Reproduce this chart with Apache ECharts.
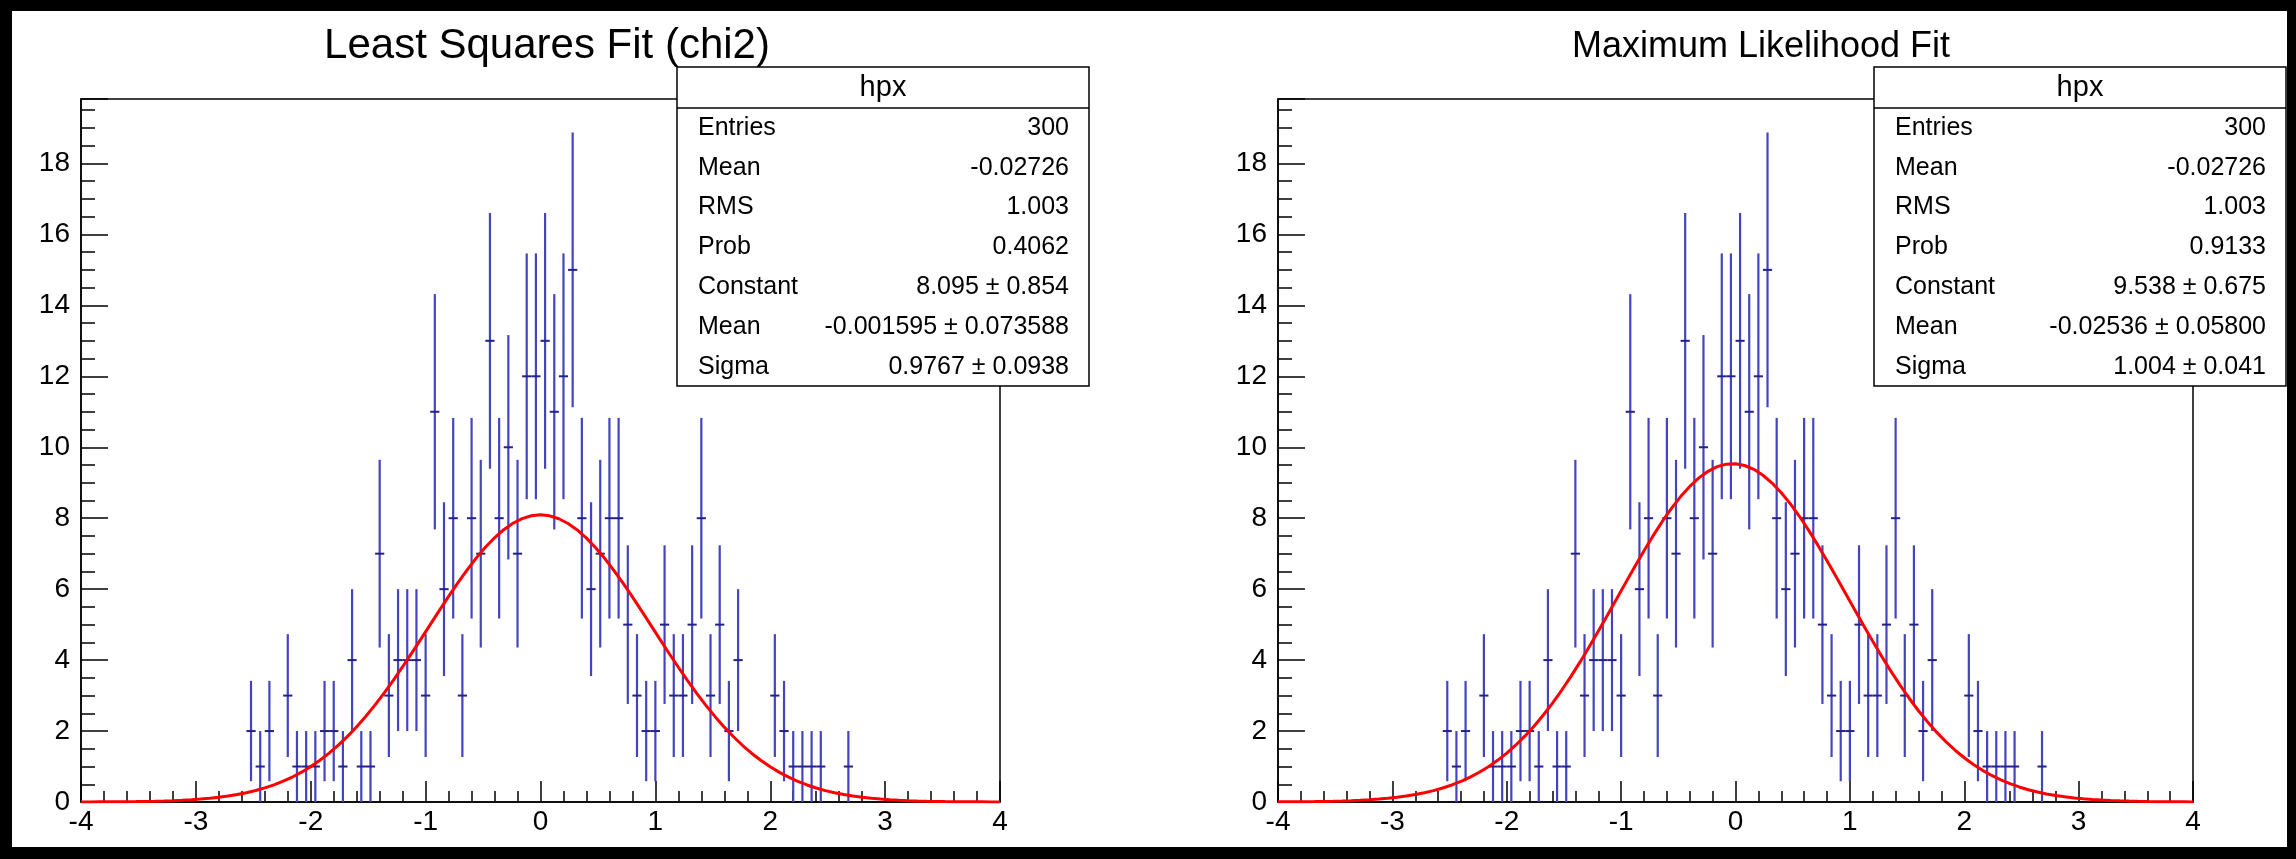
<!DOCTYPE html>
<html>
<head>
<meta charset="utf-8">
<script src="https://cdn.jsdelivr.net/npm/echarts@6/dist/echarts.min.js"></script>
<style>
  html, body { margin: 0; padding: 0; background: #000; }
  #wrap { position: relative; width: 2296px; height: 859px; }
  #paper { position: absolute; left: 12px; top: 11px; right: 9px; bottom: 12px; background: #fff; }
  #chart { position: absolute; left: 0; top: 0; width: 2296px; height: 859px; }
</style>
</head>
<body>
<div id="wrap"><div id="paper"></div><div id="chart"></div></div>
<script>
// Histogram "hpx": 100 bins on [-4, 4]
const xMin = -4;
const xMax = 4;
const nBins = 100;

// Bin contents, bin 0 starts at x = -4
const counts = [
  0, 0, 0, 0, 0, 0, 0, 0, 0, 0,
  0, 0, 0, 0, 0, 0, 0, 0, 2, 1,
  2, 0, 3, 1, 1, 1, 2, 2, 1, 4,
  1, 1, 7, 3, 4, 4, 4, 3, 11, 6,
  8, 3, 8, 7, 13, 8, 10, 7, 12, 12,
  13, 11, 12, 15, 8, 6, 7, 8, 8, 5,
  3, 2, 2, 5, 3, 3, 5, 8, 3, 5,
  2, 4, 0, 0, 0, 3, 2, 1, 1, 1,
  1, 0, 0, 1, 0, 0, 0, 0, 0, 0,
  0, 0, 0, 0, 0, 0, 0, 0, 0, 0
];

// Axis ticks
const xTicks = [-4, -3, -2, -1, 0, 1, 2, 3, 4];
const yTicks = [0, 2, 4, 6, 8, 10, 12, 14, 16, 18];
const yMax = 19.817;

// Panel titles
const panelTitles = ['Least Squares Fit (chi2)', 'Maximum Likelihood Fit'];

// Statistics box rows
const statNames = ['Entries', 'Mean', 'RMS', 'Prob', 'Constant', 'Mean', 'Sigma'];
const histStats = ['300', '-0.02726', '1.003'];
const fitProb = ['0.4062', '0.9133'];

// Gaussian fit results: Constant, Mean, Sigma (value and error)
const lsqParams = ['8.095', '-0.001595', '0.9767'];
const lsqErrors = ['0.854', '0.073588', '0.0938'];
const mlParams = ['9.538', '-0.02536', '1.004'];
const mlErrors = ['0.675', '0.05800', '0.041'];

const FONT = '"Liberation Sans", Arial, Helvetica, sans-serif';
const binWidth = (xMax - xMin) / nBins;

// Non-empty bins as [centre, content]
const points = [];
counts.forEach((n, i) => {
  if (n > 0) points.push([xMin + (i + 0.5) * binWidth, n]);
});

// Fitted gaussian sampled like a TF1 with 100 points
function gaussCurve(params) {
  const c = parseFloat(params[0]), m = parseFloat(params[1]), s = parseFloat(params[2]);
  const pts = [];
  const npx = 100;
  for (let k = 0; k <= npx; k++) {
    const x = xMin + (xMax - xMin) * k / npx;
    pts.push([x, c * Math.exp(-0.5 * ((x - m) / s) * ((x - m) / s))]);
  }
  return pts;
}

const grids = [
  { left: 81, top: 99, width: 919, height: 703 },
  { left: 1278, top: 99, width: 915, height: 703 }
];

function xAxisFor(gi) {
  return {
    type: 'value', gridIndex: gi, min: xMin, max: xMax, interval: 1,
    axisLine: { show: true, onZero: false, lineStyle: { color: '#000', width: 1.5 } },
    axisTick: { show: true, inside: true, length: 21, lineStyle: { color: '#000', width: 1.5 } },
    minorTick: { show: true, splitNumber: 5, length: 11, lineStyle: { color: '#000', width: 1.5 } },
    splitLine: { show: false },
    axisLabel: {
      margin: 6, color: '#000', fontSize: 28, fontFamily: FONT,
      formatter: v => (xTicks.indexOf(v) >= 0 ? String(v) : '')
    }
  };
}

function yAxisFor(gi) {
  return {
    type: 'value', gridIndex: gi, min: 0, max: yMax, interval: 2,
    axisLine: { show: true, onZero: false, lineStyle: { color: '#000', width: 1.5 } },
    axisTick: { show: true, inside: true, length: 27, lineStyle: { color: '#000', width: 1.5 } },
    minorTick: { show: true, splitNumber: 4, length: 14, lineStyle: { color: '#000', width: 1.5 } },
    splitLine: { show: false },
    axisLabel: {
      margin: 11, color: '#000', fontSize: 28, fontFamily: FONT, showMaxLabel: false,
      formatter: v => (yTicks.indexOf(v) >= 0 ? String(v) : '')
    }
  };
}

function errorBars(gi) {
  return {
    type: 'custom', xAxisIndex: gi, yAxisIndex: gi, z: 3,
    data: points, animation: false, clip: true,
    renderItem(params, api) {
      const x = api.value(0), n = api.value(1), e = Math.sqrt(n);
      const top = api.coord([x, n + e]);
      const bot = api.coord([x, n - e]);
      const l = api.coord([x - binWidth / 2, n]);
      const r = api.coord([x + binWidth / 2, n]);
      return {
        type: 'group',
        children: [
          { type: 'line', shape: { x1: top[0], y1: top[1], x2: bot[0], y2: bot[1] },
            style: { stroke: '#4444bf', lineWidth: 2.2 } },
          { type: 'line', shape: { x1: l[0], y1: l[1], x2: r[0], y2: r[1] },
            style: { stroke: '#22228a', lineWidth: 2 } }
        ]
      };
    }
  };
}

function fitLine(gi, params) {
  return {
    type: 'line', xAxisIndex: gi, yAxisIndex: gi, z: 4,
    data: gaussCurve(params), showSymbol: false, smooth: false, animation: false,
    lineStyle: { color: '#ff0000', width: 3 }
  };
}

function statsBox(x, values) {
  const y = 67, w = 412, h = 319;
  const children = [
    { type: 'rect', shape: { x: x, y: y, width: w, height: h },
      style: { fill: '#fff', stroke: '#000', lineWidth: 1.5 } },
    { type: 'line', shape: { x1: x, y1: 108, x2: x + w, y2: 108 },
      style: { stroke: '#000', lineWidth: 1.5 } },
    { type: 'text', x: x + w / 2, y: 88,
      style: { text: 'hpx', font: '29px ' + FONT, fill: '#000',
               align: 'center', verticalAlign: 'middle', textAlign: 'center', textVerticalAlign: 'middle' } }
  ];
  statNames.forEach((name, k) => {
    const ty = 128 + 39.8 * k;
    children.push({ type: 'text', x: x + 21, y: ty,
      style: { text: name, font: '25px ' + FONT, fill: '#000',
               align: 'left', verticalAlign: 'middle', textAlign: 'left', textVerticalAlign: 'middle' } });
    children.push({ type: 'text', x: x + w - 20, y: ty,
      style: { text: values[k], font: '25px ' + FONT, fill: '#000',
               align: 'right', verticalAlign: 'middle', textAlign: 'right', textVerticalAlign: 'middle' } });
  });
  return { type: 'group', z: 100, children: children };
}

function statValues(prob, params, errors) {
  const vals = histStats.slice();
  vals.push(prob);
  params.forEach((p, i) => vals.push(p + ' \u00b1 ' + errors[i]));
  return vals;
}

const chart = echarts.init(document.getElementById('chart'), null, { renderer: 'canvas' });
chart.setOption({
  backgroundColor: 'transparent',
  animation: false,
  title: [
    { text: panelTitles[0], left: 542, top: 20, textAlign: 'center',
      textStyle: { fontFamily: FONT, fontSize: 42, fontWeight: 'normal', color: '#000' } },
    { text: panelTitles[1], left: 1756, top: 24, textAlign: 'center',
      textStyle: { fontFamily: FONT, fontSize: 36, fontWeight: 'normal', color: '#000' } }
  ],
  grid: grids.map(g => Object.assign({ show: true, borderColor: '#000', borderWidth: 1.5, backgroundColor: 'transparent' }, g)),
  xAxis: [xAxisFor(0), xAxisFor(1)],
  yAxis: [yAxisFor(0), yAxisFor(1)],
  series: [errorBars(0), fitLine(0, lsqParams), errorBars(1), fitLine(1, mlParams)],
  graphic: [
    statsBox(677, statValues(fitProb[0], lsqParams, lsqErrors)),
    statsBox(1874, statValues(fitProb[1], mlParams, mlErrors))
  ]
});
</script>
</body>
</html>
